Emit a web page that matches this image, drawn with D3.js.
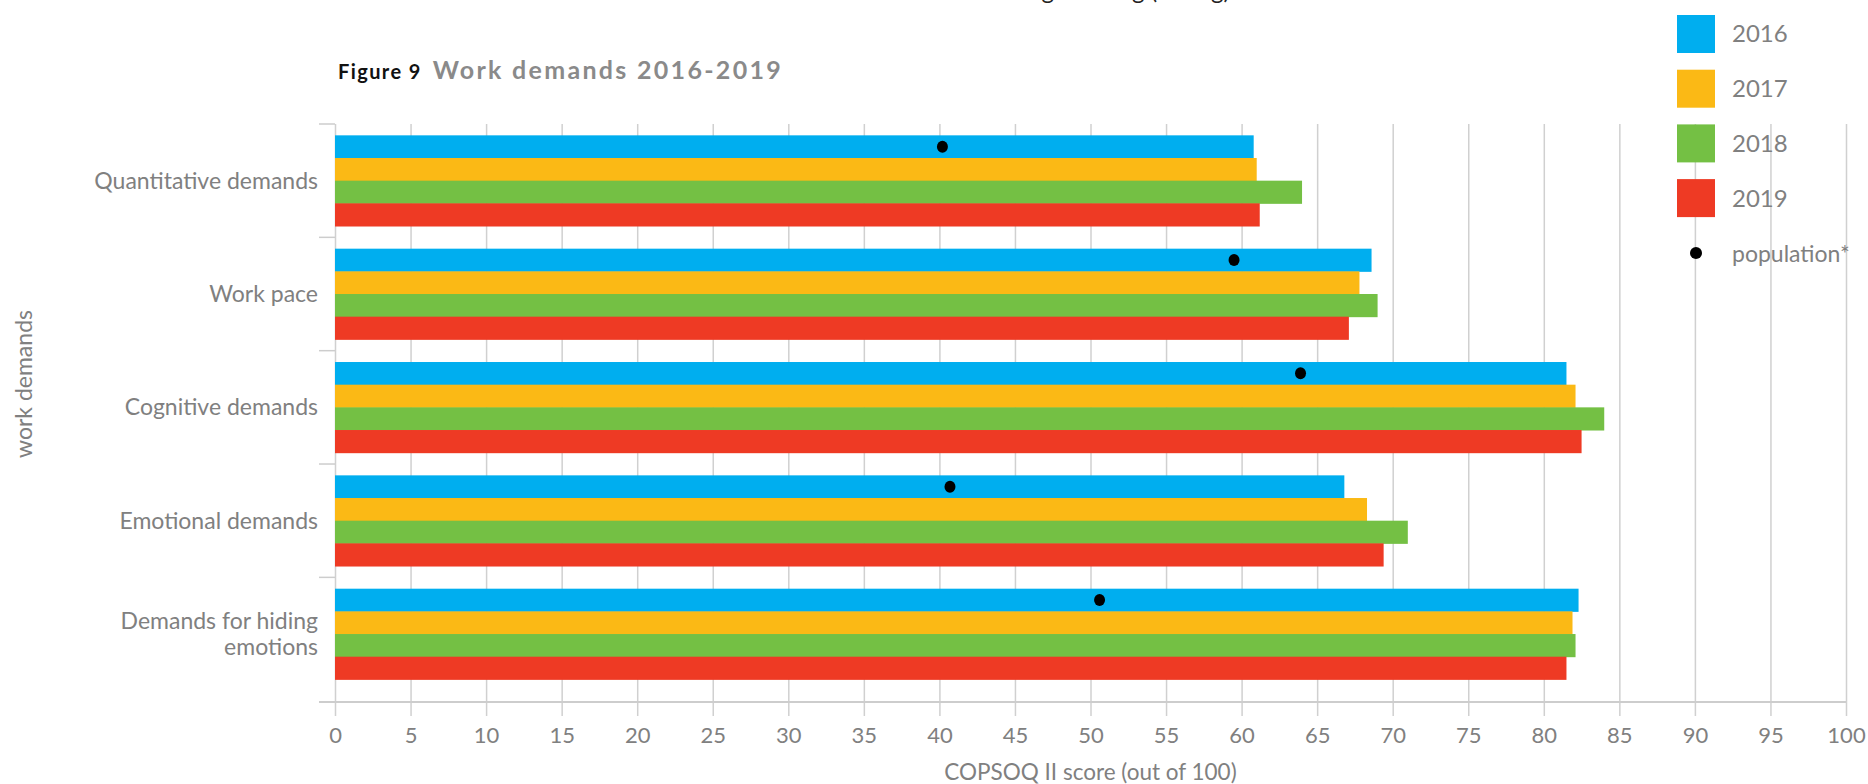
<!DOCTYPE html>
<html>
<head>
<meta charset="utf-8">
<script src="https://cdn.jsdelivr.net/npm/d3@7"></script>
<style>
  body { margin: 0; background: #fff; }
  svg { display: block; font-family: Lato, "Noto Sans", sans-serif; }
</style>
</head>
<body>
<script>
// data
const categories = ["Quantitative demands", "Work pace", "Cognitive demands", "Emotional demands", "Demands for hiding emotions"]
const years = ["2016", "2017", "2018", "2019"]
const scores2016 = [60.8, 68.6, 81.5, 66.8, 82.3]
const scores2017 = [61.0, 67.8, 82.1, 68.3, 81.9]
const scores2018 = [64.0, 69.0, 84.0, 71.0, 82.1]
const scores2019 = [61.2, 67.1, 82.5, 69.4, 81.5]
const population = [40.2, 59.5, 63.9, 40.7, 50.6]
const xTicks = d3.range(0, 101, 5)
const colors = ["#00aeef", "#fbb915", "#74c044", "#ee3a24"]

const series = [scores2016, scores2017, scores2018, scores2019]
const rows = categories.map((c, i) => ({
    cat: c,
    vals: years.map((y, j) => ({year: y, value: series[j][i]})),
    pop: population[i]
}))

const width = 1868, height = 784
const svg = d3.select("body").append("svg")
    .attr("width", width)
    .attr("height", height)

const x = d3.scaleLinear().domain([0, 100]).range([335, 1846])
const y = d3.scaleBand().domain(categories).range([124, 690.7])
    .paddingInner(0.2).paddingOuter(0.1)
const yInner = d3.scaleBand().domain(years).range([0, y.bandwidth()])
const color = d3.scaleOrdinal().domain(years).range(colors)

const grey = "#808080"

// cut-off heading from the page above
svg.append("text")
    .attr("x", 1230).attr("y", -1)
    .attr("text-anchor", "end")
    .style("font-size", "24px")
    .attr("fill", "#222")
    .text("Starting working (during)")

// title
const title = svg.append("text").attr("x", 338).attr("y", 79).style("font-weight", "bold")
title.append("tspan").style("font-size", "20px").attr("fill", "#111")
    .style("letter-spacing", "1.4px").text("Figure 9")
title.append("tspan").attr("dx", 11).style("font-size", "25px").attr("fill", "#8a8a8a")
    .style("letter-spacing", "2.3px").text("Work demands 2016-2019")

// gridlines + tick labels
const xAxis = svg.append("g")
    .attr("transform", "translate(0,716)")
    .call(d3.axisBottom(x).tickValues(xTicks).tickSize(-592).tickPadding(11))
xAxis.select(".domain").remove()
xAxis.selectAll(".tick line").attr("stroke", "#d0d0d0").attr("stroke-width", 1.5)
xAxis.selectAll(".tick text")
    .attr("fill", grey)
    .style("font-size", "22px")
    .style("font-family", "Lato, 'Noto Sans', sans-serif")

// horizontal axis line
svg.append("line")
    .attr("x1", 319).attr("x2", x(100))
    .attr("y1", 702).attr("y2", 702)
    .attr("stroke", "#cdcdcd").attr("stroke-width", 2)

// category ticks
svg.selectAll(".ytick")
    .data(categories)
    .join("line")
    .attr("class", "ytick")
    .attr("x1", 319).attr("x2", x(0))
    .attr("y1", d => y(d) - y.step() * 0.1)
    .attr("y2", d => y(d) - y.step() * 0.1)
    .attr("stroke", "#cdcdcd").attr("stroke-width", 1.5)

// bars
const groups = svg.selectAll(".grp")
    .data(rows)
    .join("g")
    .attr("class", "grp")
    .attr("transform", d => `translate(0,${y(d.cat)})`)

groups.selectAll("rect")
    .data(d => d.vals)
    .join("rect")
    .attr("x", x(0))
    .attr("y", d => yInner(d.year))
    .attr("width", d => x(d.value) - x(0))
    .attr("height", yInner.bandwidth() + 0.5)
    .attr("fill", d => color(d.year))

groups.append("ellipse")
    .attr("cx", d => x(d.pop))
    .attr("cy", yInner("2016") + yInner.bandwidth() / 2)
    .attr("rx", 5.5).attr("ry", 6)
    .attr("fill", "#000")

// category labels
const labels = svg.selectAll(".cat")
    .data(categories)
    .join("text")
    .attr("class", "cat")
    .attr("text-anchor", "end")
    .attr("fill", grey)
    .style("font-size", "23px")
    .attr("transform", d => `translate(318,${y(d) + y.bandwidth() / 2})`)

labels.each(function(d) {
    const t = d3.select(this)
    const lines = d == "Demands for hiding emotions" ? ["Demands for hiding", "emotions"] : [d]
    lines.forEach((l, i) => {
        t.append("tspan")
            .attr("x", 0)
            .attr("y", (i - (lines.length - 1) / 2) * 26)
            .attr("dy", "0.35em")
            .text(l)
    })
})

// axis titles
svg.append("text")
    .attr("transform", "translate(24,384) rotate(-90)")
    .attr("text-anchor", "middle")
    .attr("dy", "0.35em")
    .attr("fill", grey)
    .style("font-size", "23px")
    .text("work demands")

svg.append("text")
    .attr("x", (x(0) + x(100)) / 2)
    .attr("y", 772)
    .attr("dy", "0.35em")
    .attr("text-anchor", "middle")
    .attr("fill", grey)
    .style("font-size", "22.5px")
    .text("COPSOQ II score (out of 100)")

// legend
const legend = svg.append("g").attr("transform", "translate(1677,15)")
years.forEach((yr, i) => {
    legend.append("rect")
        .attr("x", 0).attr("y", i * 54.7)
        .attr("width", 38).attr("height", 38)
        .attr("fill", color(yr))
    legend.append("text")
        .attr("x", 55).attr("y", i * 54.7 + 19)
        .attr("dy", "0.35em")
        .attr("fill", grey)
        .style("font-size", "24px")
        .text(yr)
})
legend.append("circle")
    .attr("cx", 19).attr("cy", 238)
    .attr("r", 6).attr("fill", "#000")
legend.append("text")
    .attr("x", 55).attr("y", 239)
    .attr("dy", "0.35em")
    .attr("fill", grey)
    .style("font-size", "23px")
    .text("population*")
</script>
</body>
</html>
